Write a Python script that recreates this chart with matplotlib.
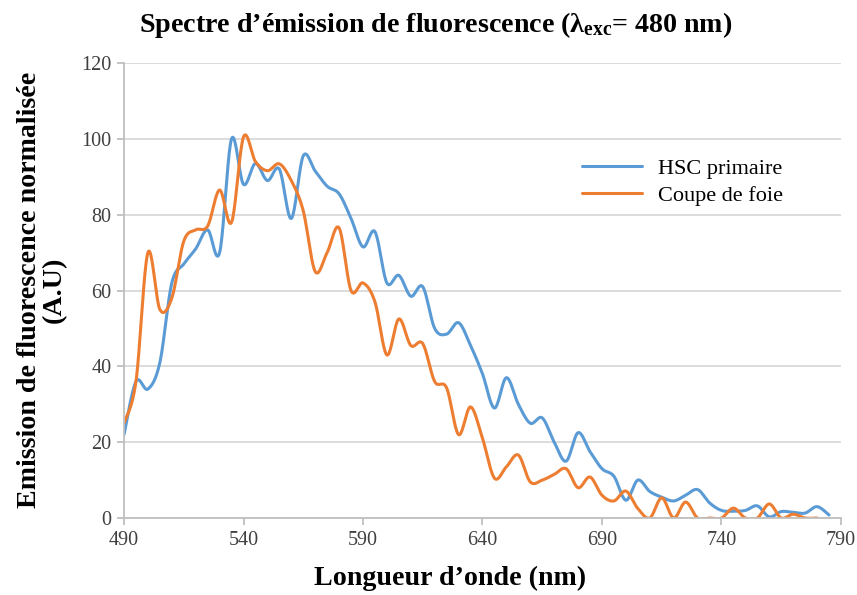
import numpy as np
import matplotlib
matplotlib.use("Agg")
import matplotlib.pyplot as plt

plt.rcParams['font.family'] = ['Liberation Serif', 'DejaVu Serif']
plt.rcParams['mathtext.fontset'] = 'custom'
plt.rcParams['mathtext.rm'] = 'Liberation Serif:bold'
plt.rcParams['mathtext.it'] = 'Liberation Serif:bold'
plt.rcParams['mathtext.bf'] = 'Liberation Serif:bold'

# wavelengths (nm), 5 nm steps
wl_hsc = list(range(490, 790, 5))
hsc = [22, 36, 34, 41, 62, 67, 71, 76, 70, 100,
       88, 93.5, 89, 92, 79, 95.5, 91.5, 87.5, 85.5, 79,
       71.5, 75.5, 62, 64, 58.5, 61, 50, 48.5, 51.5, 45.5,
       38, 29, 37, 30, 25, 26.4, 20, 15, 22.5, 17.5,
       13, 11, 4.7, 10, 7, 5.5, 4.5, 6, 7.5, 4,
       2, 1.8, 2, 3.2, 0.3, 1.7, 1.5, 1.3, 3, 0.8]

wl_foie = list(range(490, 785, 5))
foie = [25, 36, 70, 55, 58, 73, 76, 77, 86.5, 78,
        100.5, 94, 91.6, 93.4, 89, 81, 65, 70, 76.5, 60,
        62, 57, 43, 52.5, 45.5, 46, 36, 34.3, 22, 29.3,
        21, 10.5, 13.5, 16.6, 9.5, 10, 11.5, 13, 8, 10.8,
        6, 4.5, 7.1, 2.5, 0, 5.3, 0, 4.2, 0, 0,
        0, 2.6, 0, 0, 3.7, 0, 1, 0, 0]

series_names = ["HSC primaire", "Coupe de foie"]
colors = ["#5B9BD5", "#ED7D31"]


def smooth(x, y, n=20):
    # Catmull-Rom spline, close to Excel's "smoothed line"
    x = np.asarray(x, float)
    y = np.asarray(y, float)
    px = np.concatenate([[x[0]], x, [x[-1]]])
    py = np.concatenate([[y[0]], y, [y[-1]]])
    xs, ys = [], []
    t = np.linspace(0, 1, n, endpoint=False)
    for i in range(1, len(px) - 2):
        for p, out in ((px, xs), (py, ys)):
            p0, p1, p2, p3 = p[i - 1], p[i], p[i + 1], p[i + 2]
            out.append(0.5 * (2 * p1 + (-p0 + p2) * t
                              + (2 * p0 - 5 * p1 + 4 * p2 - p3) * t ** 2
                              + (-p0 + 3 * p1 - 3 * p2 + p3) * t ** 3))
    xs.append([x[-1]])
    ys.append([y[-1]])
    return np.concatenate(xs), np.concatenate(ys)


fig = plt.figure(figsize=(8.57, 5.95), dpi=100)
ax = fig.add_axes([0.1447, 0.1294, 0.8366, 0.7647])

for wl, vals, name, c in zip([wl_hsc, wl_foie], [hsc, foie], series_names, colors):
    sx, sy = smooth(wl, vals)
    ax.plot(sx, sy, color=c, lw=2.2, label=name, solid_capstyle='round')

ax.set_xlim(490, 790)
ax.set_ylim(0, 120)
ax.set_xticks(range(490, 791, 50))
ax.set_yticks(range(0, 121, 20))
ax.yaxis.grid(True, color="#d9d9d9", lw=1.3)
ax.set_axisbelow(True)
for s in ["top", "right"]:
    ax.spines[s].set_visible(False)
for s in ["left", "bottom"]:
    ax.spines[s].set_color("#bfbfbf")
    ax.spines[s].set_linewidth(1.3)
ax.tick_params(axis="both", direction="out", length=5, width=1.3, color="#bfbfbf",
               labelsize=14.5, labelcolor="#404040", pad=4)

# titles placed like the Excel chart (not centred on the plot area)
fig.text(436 / 857, 1 - 25 / 595,
         "Spectre d\u2019\u00e9mission de fluorescence ($\\lambda_{exc}$= 480 nm)",
         fontsize=20.2, fontweight="bold", ha="center", va="center")
fig.text(450 / 857, 1 - 578 / 595, "Longueur d\u2019onde (nm)",
         fontsize=20.2, fontweight="bold", ha="center", va="center")
fig.text(42 / 857, 1 - 290 / 595, "Emission de fluorescence normalis\u00e9e\n(A.U)",
         fontsize=20.2, fontweight="bold", ha="center", va="center",
         rotation=90, linespacing=1.0, multialignment="center")

ax.legend(loc="upper left", bbox_to_anchor=(0.639, 0.791), frameon=False,
          fontsize=16, handlelength=2.7, labelspacing=0.3, handletextpad=0.7,
          borderpad=0, borderaxespad=0)

fig.savefig("out.png", dpi=100)
